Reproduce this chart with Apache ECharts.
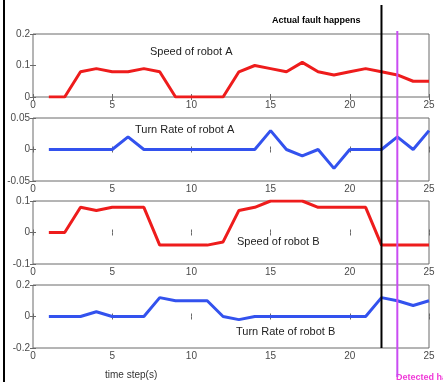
<!DOCTYPE html>
<html>
<head>
<meta charset="utf-8">
<script src="https://cdn.jsdelivr.net/npm/echarts@6/dist/echarts.min.js"></script>
<style>
html,body{margin:0;padding:0;background:#fff;}
#c{width:443px;height:382px;}
</style>
</head>
<body>
<div id="c"></div>
<script>
// ---- data ----
const steps = [1,2,3,4,5,6,7,8,9,10,11,12,13,14,15,16,17,18,19,20,21,22,23,24,25];
const speedA = [0,0,0.08,0.09,0.08,0.08,0.09,0.08,0,0,0,0,0.08,0.1,0.09,0.08,0.11,0.08,0.07,0.08,0.09,0.08,0.07,0.05,0.05];
const turnA  = [0,0,0,0,0,0.02,0,0,0,0,0,0,0,0,0.03,0,-0.01,0,-0.03,0,0,0,0.02,0,0.03];
const speedB = [0,0,0.08,0.07,0.08,0.08,0.08,-0.04,-0.04,-0.04,-0.04,-0.03,0.07,0.08,0.1,0.1,0.1,0.08,0.08,0.08,0.08,-0.04,-0.04,-0.04,-0.04];
const turnB  = [0,0,0,0.03,0,0,0,0.12,0.1,0.1,0.1,0,-0.02,0,0,0,0,0,0,0,0,0.12,0.1,0.07,0.1];
const panelTitles = ['Speed of robot A','Turn Rate of robot A','Speed of robot B','Turn Rate of robot B'];
const yRanges = [[0,0.2,0.1],[-0.05,0.05,0.05],[-0.1,0.1,0.1],[-0.2,0.2,0.2]];
const xTicks = [0,25,5];
const faultStep = 22;
const detectStep = 23;
const faultLabel = 'Actual fault happens';
const detectLabel = 'Detected happens';
const xTitle = 'time step(s)';

const RED = '#ee1c1c', BLUE = '#3352ee';
const seriesData = [speedA, turnA, speedB, turnB];
const colors = [RED, BLUE, RED, BLUE];
const tops = [34, 118, 201, 285];
const H = 63;
const FONT = 'Liberation Sans, Arial, sans-serif';
const TICKC = '#6a6a6a', LABC = '#4a4a4a';

const grids = [], xAxes = [], yAxes = [], series = [];
tops.forEach((t, i) => {
  grids.push({left: 33, right: 14, top: t, height: H, show: true, borderColor: TICKC, borderWidth: 1, backgroundColor: 'transparent'});
  const base = xAxes.length;
  xAxes.push({type: 'value', gridIndex: i, min: xTicks[0], max: xTicks[1], interval: xTicks[2], position: 'bottom',
    axisLine: {show: false}, splitLine: {show: false},
    axisTick: {show: true, inside: true, length: 3, lineStyle: {color: TICKC}},
    axisLabel: {color: LABC, fontSize: 10, fontFamily: FONT, margin: 3}});
  xAxes.push({type: 'value', gridIndex: i, min: xTicks[0], max: xTicks[1], interval: xTicks[2], position: 'top',
    axisLine: {show: false}, splitLine: {show: false},
    axisTick: {show: true, inside: true, length: 3, lineStyle: {color: TICKC}},
    axisLabel: {show: false}});
  const yb = yAxes.length;
  const r = yRanges[i];
  yAxes.push({type: 'value', gridIndex: i, min: r[0], max: r[1], interval: r[2], position: 'left',
    axisLine: {show: false}, splitLine: {show: false},
    axisTick: {show: true, inside: true, length: 3, lineStyle: {color: TICKC}},
    axisLabel: {color: LABC, fontSize: 10, fontFamily: FONT, margin: 3, formatter: v => String(+v.toFixed(3))}});
  yAxes.push({type: 'value', gridIndex: i, min: r[0], max: r[1], interval: r[2], position: 'right',
    axisLine: {show: false}, splitLine: {show: false},
    axisTick: {show: true, inside: true, length: 3, lineStyle: {color: TICKC}},
    axisLabel: {show: false}});
  series.push({type: 'line', xAxisIndex: base, yAxisIndex: yb, symbol: 'none',
    data: steps.map((s, k) => [s, seriesData[i][k]]),
    lineStyle: {color: colors[i], width: 3}, clip: true, z: 3});
});

// overlay grids for the fault / detection vertical lines
function vGrid(top, bottom) {
  const gi = grids.length;
  grids.push({left: 33, right: 14, top: top, bottom: bottom, show: false});
  xAxes.push({type: 'value', gridIndex: gi, min: xTicks[0], max: xTicks[1], show: false});
  yAxes.push({type: 'value', gridIndex: gi, min: 0, max: 1, show: false});
  return [xAxes.length - 1, yAxes.length - 1];
}
const fa = vGrid(5, 382 - 348);
series.push({type: 'line', xAxisIndex: fa[0], yAxisIndex: fa[1], symbol: 'none', z: 5,
  data: [[faultStep, 0], [faultStep, 1]], lineStyle: {color: '#000', width: 2}});
const da = vGrid(31, 382 - 377);
series.push({type: 'line', xAxisIndex: da[0], yAxisIndex: da[1], symbol: 'none', z: 5,
  data: [[detectStep, 0], [detectStep, 1]], lineStyle: {color: '#c94cf2', width: 2}});

const chart = echarts.init(document.getElementById('c'), null, {renderer: 'canvas'});
chart.setOption({
  animation: false,
  backgroundColor: '#fff',
  grid: grids, xAxis: xAxes, yAxis: yAxes, series: series,
  graphic: [
    {type: 'line', shape: {x1: 4, y1: 0, x2: 4, y2: 382}, style: {stroke: '#000', lineWidth: 2}},
    {type: 'text', left: 150, top: 46, style: {text: panelTitles[0], fontSize: 11, fontFamily: FONT, fill: '#222'}},
    {type: 'text', left: 135, top: 124, style: {text: panelTitles[1], fontSize: 11, fontFamily: FONT, fill: '#222'}},
    {type: 'text', left: 237, top: 236, style: {text: panelTitles[2], fontSize: 11, fontFamily: FONT, fill: '#222'}},
    {type: 'text', left: 236, top: 326, style: {text: panelTitles[3], fontSize: 11, fontFamily: FONT, fill: '#222'}},
    {type: 'text', left: 272, top: 16, style: {text: faultLabel, fontSize: 9, fontWeight: 'bold', fontFamily: FONT, fill: '#000'}},
    {type: 'text', left: 396, top: 373, style: {text: detectLabel, fontSize: 9, fontWeight: 'bold', fontFamily: FONT, fill: '#f03ad8'}},
    {type: 'text', left: 105, top: 370, style: {text: xTitle, fontSize: 10, fontFamily: FONT, fill: '#333'}}
  ]
});
</script>
</body>
</html>
